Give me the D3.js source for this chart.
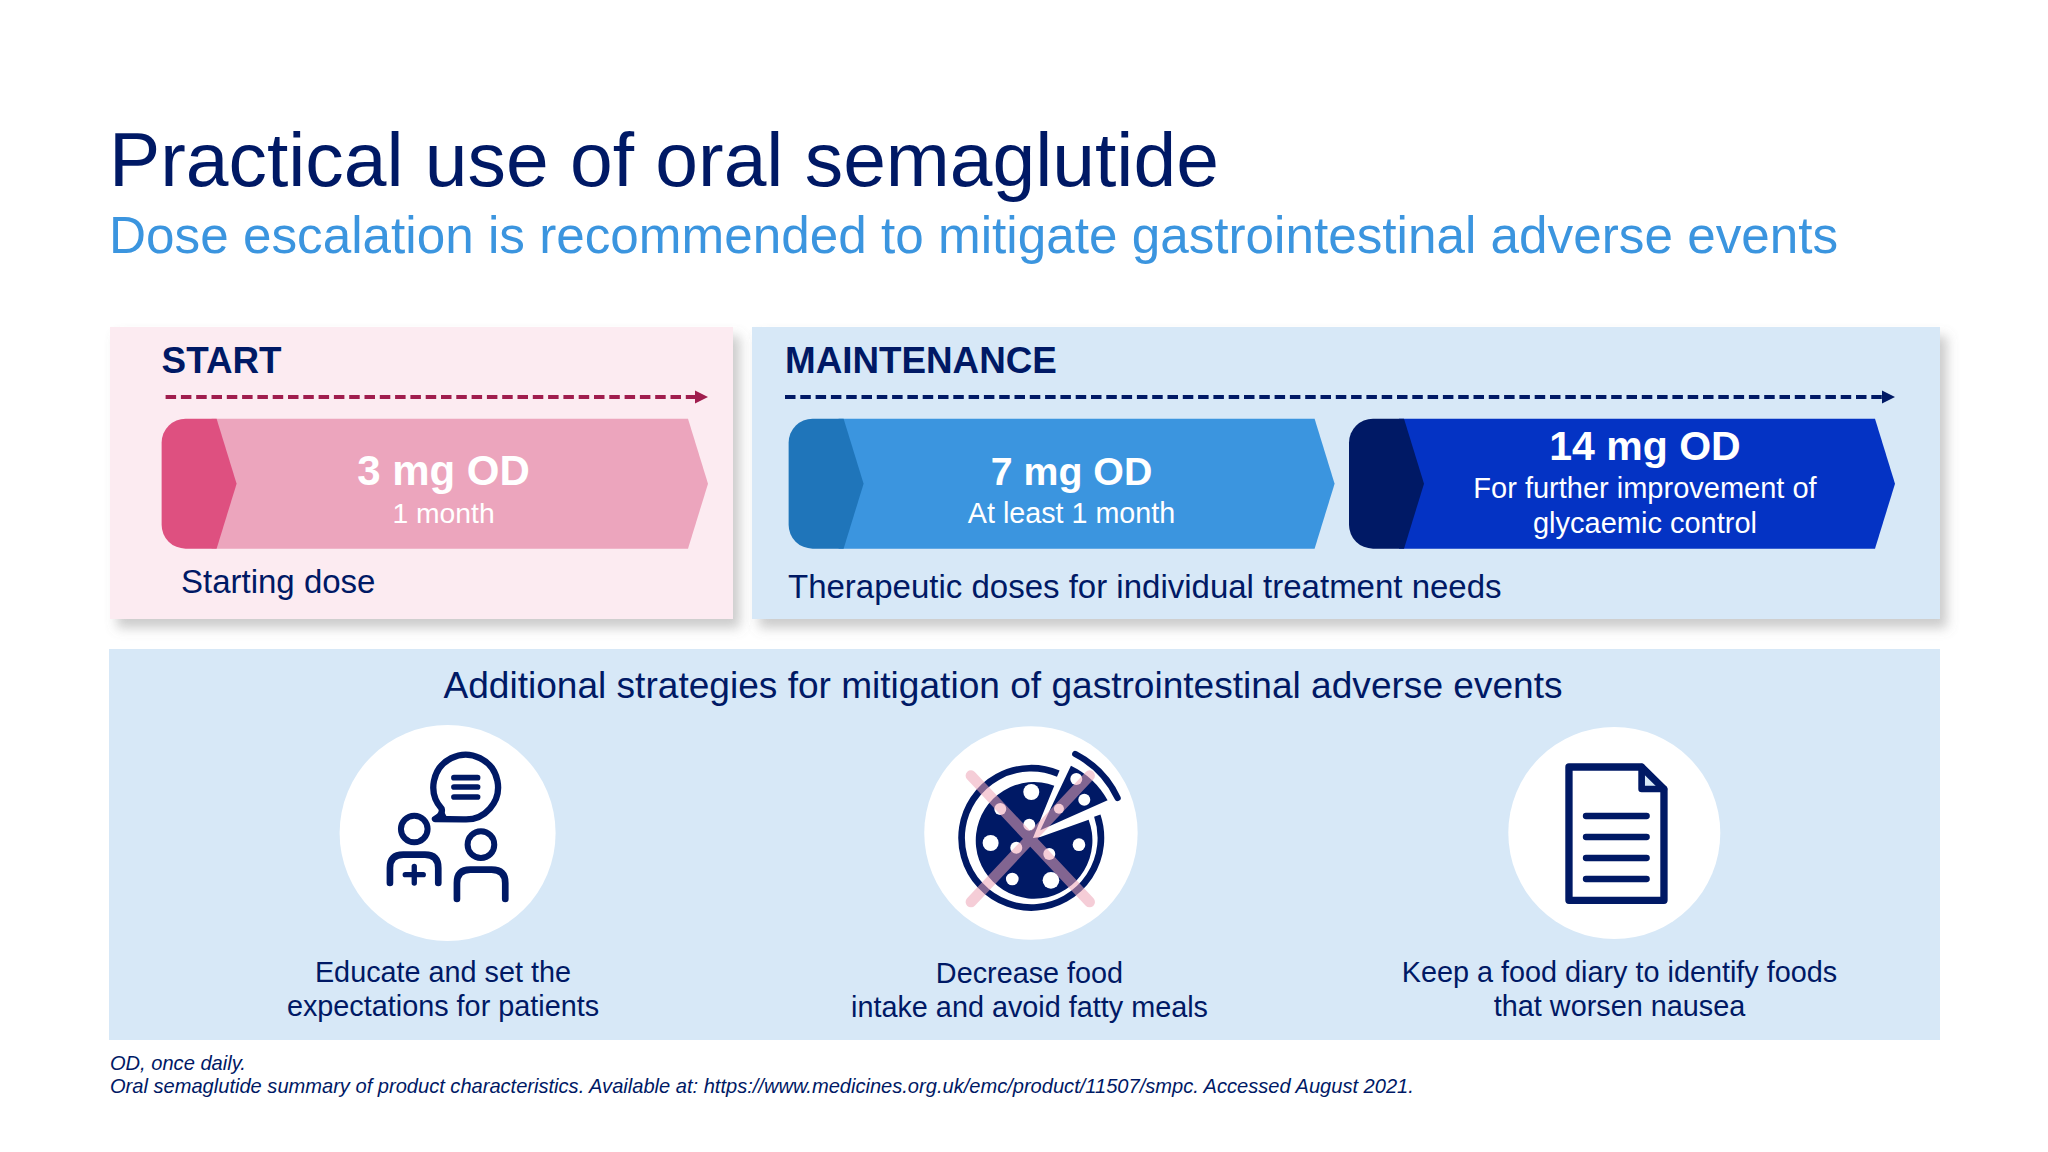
<!DOCTYPE html>
<meta charset="utf-8">
<head>
	<title>Practical use of oral semaglutide</title>
	<style type="text/css">
		body { margin: 0; background: #fff; }
		text { font-family: "Liberation Sans", Arial, sans-serif; fill: #001965; }
		.white { fill: #fff; }
	</style>
	<script src="https://d3js.org/d3.v7.min.js"></script>
</head>
<body>
<svg width="2048" height="1152" id="svg1"></svg>
<script>
	// text and categories
	const title = 'Practical use of oral semaglutide';
	const subtitle = 'Dose escalation is recommended to mitigate gastrointestinal adverse events';
	const phases = ['START', 'MAINTENANCE'];
	const startDoses = ['3 mg OD'];
	const maintenanceDoses = ['7 mg OD', '14 mg OD'];
	const doseNotes = {
		'3 mg OD': ['1 month'],
		'7 mg OD': ['At least 1 month'],
		'14 mg OD': ['For further improvement of', 'glycaemic control']
	};
	const phaseNotes = ['Starting dose', 'Therapeutic doses for individual treatment needs'];
	const strategiesTitle = 'Additional strategies for mitigation of gastrointestinal adverse events';
	const strategies = ['educate', 'food', 'diary'];
	const strategyLabels = [
		['Educate and set the', 'expectations for patients'],
		['Decrease food', 'intake and avoid fatty meals'],
		['Keep a food diary to identify foods', 'that worsen nausea']
	];
	const footnotes = [
		'OD, once daily.',
		'Oral semaglutide summary of product characteristics. Available at: https://www.medicines.org.uk/emc/product/11507/smpc. Accessed August 2021.'
	];

	const navy = '#001965';
	const pink = '#fcebf1';
	const paleBlue = '#d7e8f7';

	const svg1 = d3.select('#svg1');

	const defs = svg1.append('defs');
	const shadow = defs.append('filter').attr('id', 'shadow')
		.attr('x', '-5%').attr('y', '-5%').attr('width', '112%').attr('height', '115%');
	shadow.append('feDropShadow')
		.attr('dx', 7).attr('dy', 9).attr('stdDeviation', 6)
		.attr('flood-color', '#777').attr('flood-opacity', 0.38);

	// heading
	svg1.append('text').attr('x', 109).attr('y', 185.5).attr('font-size', 76.8).text(title);
	svg1.append('text').attr('x', 109).attr('y', 253).attr('font-size', 51.25)
		.style('fill', '#3b95df').text(subtitle);

	// panels
	svg1.append('rect').attr('x', 110).attr('y', 327).attr('width', 623).attr('height', 292)
		.attr('fill', pink).attr('filter', 'url(#shadow)');
	svg1.append('rect').attr('x', 752).attr('y', 327).attr('width', 1188).attr('height', 292)
		.attr('fill', paleBlue).attr('filter', 'url(#shadow)');
	svg1.append('rect').attr('x', 109).attr('y', 649).attr('width', 1831).attr('height', 391)
		.attr('fill', paleBlue);

	// phase headings and dashed arrows
	const phaseX = d3.scaleOrdinal().domain(phases).range([161.6, 785]);
	const arrowStart = d3.scaleOrdinal().domain(phases).range([165.6, 785]);
	const arrowEnd = d3.scaleOrdinal().domain(phases).range([708, 1895]);
	const arrowColor = d3.scaleOrdinal().domain(phases).range(['#a01d4e', navy]);

	phases.forEach(p => {
		svg1.append('text').attr('x', phaseX(p)).attr('y', 373)
			.attr('font-size', 36.8).attr('font-weight', 'bold').text(p);
		svg1.append('line')
			.attr('x1', arrowStart(p)).attr('x2', arrowEnd(p) - 10)
			.attr('y1', 397).attr('y2', 397)
			.attr('stroke', arrowColor(p)).attr('stroke-width', 4.2)
			.attr('stroke-dasharray', '10.5 4.8');
		const tri = d3.path();
		tri.moveTo(arrowEnd(p), 397);
		tri.lineTo(arrowEnd(p) - 13, 390.5);
		tri.lineTo(arrowEnd(p) - 13, 403.5);
		tri.closePath();
		svg1.append('path').attr('d', tri.toString()).attr('fill', arrowColor(p));
	});

	// dose chevrons
	const chevTop = 418.7, chevBottom = 548.7, chevMid = (chevTop + chevBottom) / 2;
	const startX = d3.scaleBand().domain(startDoses).range([161.6, 708]);
	const maintX = d3.scaleBand().domain(maintenanceDoses).range([788.6, 1895]).paddingInner(0.0257);
	const bodyColor = d3.scaleOrdinal().domain(['3 mg OD', '7 mg OD', '14 mg OD']).range(['#eca5bd', '#3b95df', '#0433c4']);
	const capColor = d3.scaleOrdinal().domain(['3 mg OD', '7 mg OD', '14 mg OD']).range(['#de5080', '#1f75ba', navy]);

	function drawChevron(dose, scale) {
		const x = scale(dose), w = scale.bandwidth(), r = 24;
		const body = d3.path();
		body.moveTo(x + 50, chevTop);
		body.lineTo(x + w - 20, chevTop);
		body.lineTo(x + w, chevMid);
		body.lineTo(x + w - 20, chevBottom);
		body.lineTo(x + 50, chevBottom);
		body.closePath();
		svg1.append('path').attr('d', body.toString()).attr('fill', bodyColor(dose));

		const cap = d3.path();
		cap.moveTo(x + 55, chevTop);
		cap.lineTo(x + 75, chevMid);
		cap.lineTo(x + 55, chevBottom);
		cap.lineTo(x + r, chevBottom);
		cap.arcTo(x, chevBottom, x, chevBottom - r, r);
		cap.lineTo(x, chevTop + r);
		cap.arcTo(x, chevTop, x + r, chevTop, r);
		cap.closePath();
		svg1.append('path').attr('d', cap.toString()).attr('fill', capColor(dose));
	}

	function doseText(dose, cx, y, size, noteYs, noteSize) {
		svg1.append('text').attr('class', 'white').attr('x', cx).attr('y', y)
			.attr('text-anchor', 'middle').attr('font-size', size).attr('font-weight', 'bold').text(dose);
		doseNotes[dose].forEach((t, i) => {
			svg1.append('text').attr('class', 'white').attr('x', cx).attr('y', noteYs[i])
				.attr('text-anchor', 'middle').attr('font-size', noteSize).text(t);
		});
	}

	startDoses.forEach(d => drawChevron(d, startX));
	maintenanceDoses.forEach(d => drawChevron(d, maintX));
	doseText('3 mg OD', 443.5, 485, 42, [523], 28.3);
	doseText('7 mg OD', 1071.5, 485, 39.3, [523], 28.7);
	doseText('14 mg OD', 1645, 460, 41, [498, 533], 29);

	svg1.append('text').attr('x', 181).attr('y', 593).attr('font-size', 33).text(phaseNotes[0]);
	svg1.append('text').attr('x', 788).attr('y', 598).attr('font-size', 33).text(phaseNotes[1]);

	// strategies
	svg1.append('text').attr('x', 1003).attr('y', 698).attr('text-anchor', 'middle')
		.attr('font-size', 37.1).text(strategiesTitle);

	const strategyX = d3.scalePoint().domain(strategies).range([447.6, 1614.3]);
	const circleR = d3.scaleOrdinal().domain(strategies).range([108, 106.7, 106]);
	const labelX = d3.scaleOrdinal().domain(strategies).range([443, 1029.5, 1619.5]);
	const labelY = d3.scaleOrdinal().domain(strategies).range([981.5, 982.5, 981.5]);

	strategies.forEach((s, i) => {
		svg1.append('circle').attr('cx', strategyX(s)).attr('cy', 833).attr('r', circleR(s)).attr('fill', '#fff');
		strategyLabels[i].forEach((t, j) => {
			svg1.append('text').attr('x', labelX(s)).attr('y', labelY(s) + j * 34.5)
				.attr('text-anchor', 'middle').attr('font-size', 28.8).text(t);
		});
	});

	// icons are drawn in crop units, three to the pixel
	function iconGroup(s, ox, oy) {
		return svg1.append('g')
			.attr('transform', `translate(${strategyX(s)},833) scale(${1 / 3}) translate(${-ox},${-oy})`);
	}

	function strokePath(g, d, w) {
		return g.append('path').attr('d', d).attr('fill', 'none').attr('stroke', navy)
			.attr('stroke-width', w).attr('stroke-linecap', 'round').attr('stroke-linejoin', 'round');
	}

	// people talking
	const talk = iconGroup('educate', 443, 370);
	strokePath(talk, 'M 490,329 A 97 97 0 1 0 425,297 Q 430,315 405,328 L 490,329', 19);
	[204, 232, 262].forEach(y => strokePath(talk, `M 462,${y} H 533`, 17));
	talk.append('path').attr('d', 'M 400,330 L 432,305 L 445,330 Z').attr('fill', navy);
	talk.append('circle').attr('cx', 343).attr('cy', 358).attr('r', 40)
		.attr('fill', 'none').attr('stroke', navy).attr('stroke-width', 18);
	talk.append('circle').attr('cx', 543).attr('cy', 405).attr('r', 40)
		.attr('fill', 'none').attr('stroke', navy).attr('stroke-width', 18);
	strokePath(talk, 'M 270,520 V 475 Q 270,435 310,435 H 375 Q 415,435 415,475 V 520', 20);
	strokePath(talk, 'M 471,568 V 520 Q 471,480 511,480 H 575 Q 616,480 616,520 V 568', 20);
	strokePath(talk, 'M 316,495 H 370 M 343,470 V 520', 16);

	// pizza with a cross over it
	const pizza = iconGroup('food', 392, 370);
	strokePath(pizza, 'M 474,192 A 209 209 0 1 0 591,318', 20).attr('stroke-linecap', 'butt');
	strokePath(pizza, 'M 525,133 A 285 285 0 0 1 652,265', 19);
	pizza.append('path').attr('fill', navy)
		.attr('d', 'M 398,385 L 462,228 A 175 175 0 1 0 565,330 L 420,382 Z');
	pizza.append('path').attr('fill', navy)
		.attr('d', 'M 420,362 L 512,168 A 250 250 0 0 1 622,272 Z');
	const toppings = [[393, 247, 24], [300, 298, 18], [387, 345, 18], [271, 400, 24], [348, 414, 18],
		[447, 433, 18], [536, 405, 19], [336, 508, 19], [452, 512, 25], [528, 208, 18], [552, 270, 18], [476, 297, 15]];
	pizza.selectAll('circle').data(toppings).enter().append('circle')
		.attr('cx', d => d[0]).attr('cy', d => d[1]).attr('r', d => d[2]).attr('fill', '#fff');
	pizza.append('path').attr('d', 'M 212,198 L 568,577 M 212,577 L 568,198')
		.attr('fill', 'none').attr('stroke', '#eca4b6').attr('stroke-opacity', 0.55)
		.attr('stroke-width', 32).attr('stroke-linecap', 'round');

	// diary page
	const page = iconGroup('diary', 373, 370);
	page.append('path').attr('d', 'M 455,172 V 238 H 522 Z').attr('fill', paleBlue);
	strokePath(page, 'M 237,172 H 455 L 522,238 V 572 H 237 Z', 22);
	strokePath(page, 'M 455,172 V 238 H 522', 20);
	[319, 382, 445, 508].forEach(y => strokePath(page, `M 288,${y} H 470`, 19));

	// footnotes
	footnotes.forEach((t, i) => {
		svg1.append('text').attr('x', 110).attr('y', 1070 + i * 23)
			.attr('font-size', 20.08).attr('font-style', 'italic').text(t);
	});
</script>
</body>
